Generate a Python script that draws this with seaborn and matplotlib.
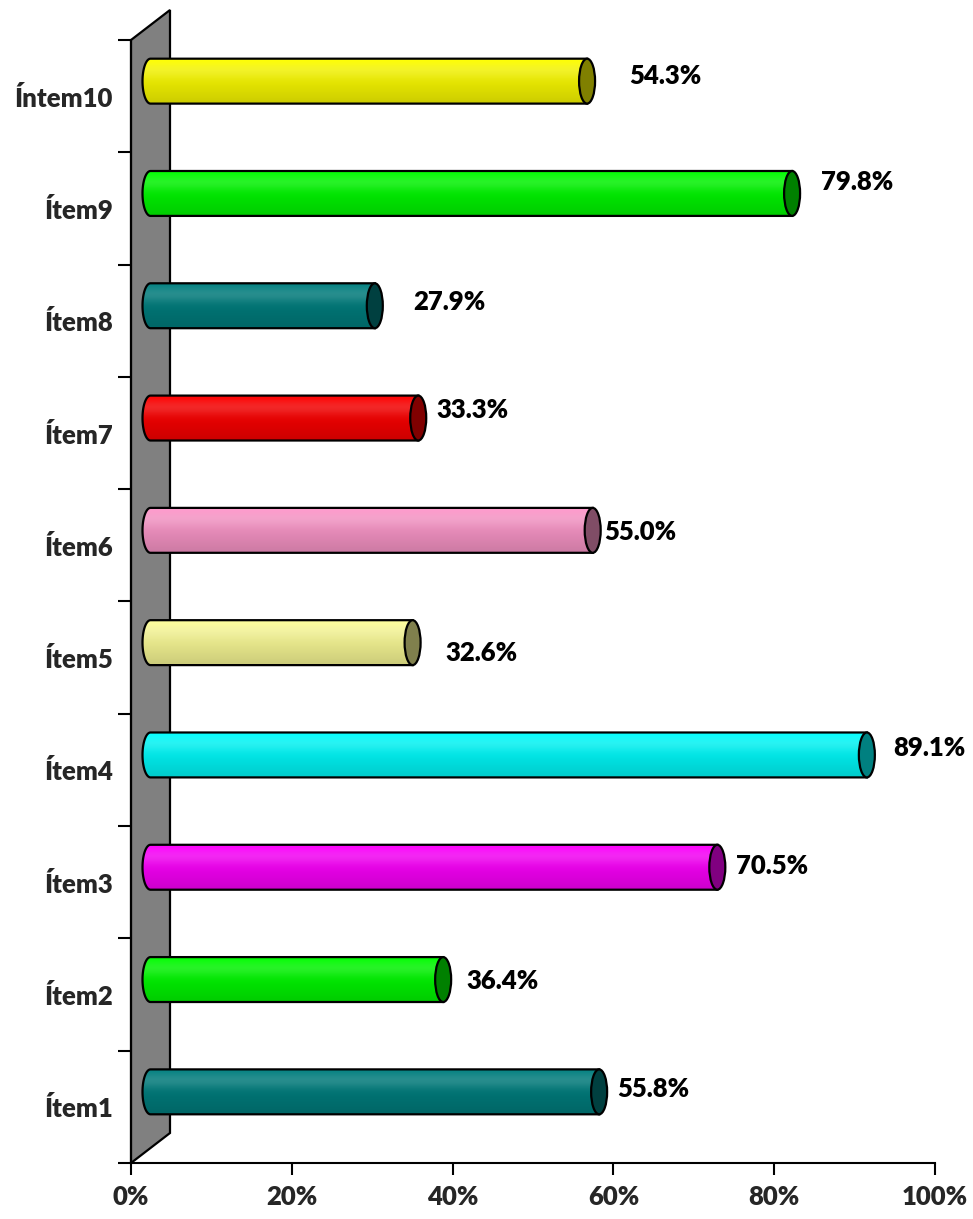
import numpy as np
import matplotlib
matplotlib.use("Agg")
import matplotlib.pyplot as plt
import seaborn as sns
from matplotlib.path import Path
from matplotlib.patches import PathPatch, Ellipse, Polygon
from matplotlib.transforms import ScaledTranslation
from matplotlib.colors import to_rgb

# ---- data -------------------------------------------------------------
items = ["Íntem10", "Ítem9", "Ítem8", "Ítem7", "Ítem6",
         "Ítem5", "Ítem4", "Ítem3", "Ítem2", "Ítem1"]
percent = [54.3, 79.8, 27.9, 33.3, 55.0, 32.6, 89.1, 70.5, 36.4, 55.8]
bar_colors = ["#FFFF00", "#00FF00", "#008080", "#FF0000", "#FF99CC",
              "#FFFF99", "#00FFFF", "#FF00FF", "#00FF00", "#008080"]
x_ticks = [0, 20, 40, 60, 80, 100]
x_tick_labels = ["0%", "20%", "40%", "60%", "80%", "100%"]

# value-label nudges (pixels, relative to the end cap of each cylinder)
label_shift = [(78, 5), (65, 11), (75, 4), (54, 8), (48, -2),
               (69, -10), (63, 7), (55, 1), (59, -1), (54, 3)]

# ---- style ------------------------------------------------------------
sns.set_theme(style="white")
plt.rcParams["font.family"] = ["Lato", "DejaVu Sans"]
plt.rcParams["font.weight"] = "bold"
FS = 18.5
FW = "heavy"

W, H = 973, 1219
fig = plt.figure(figsize=(W / 100, H / 100), dpi=100)
ax = fig.add_axes([131 / W, 56 / H, 804 / W, 1123 / H])

sns.barplot(x=percent, y=items, hue=items, palette=bar_colors, orient="h",
            width=0.40, saturation=1, legend=False, ax=ax)

# 3-D depth: bars sit halfway into the floor, wall is the full depth
depth = ax.transData + ScaledTranslation(19.5 / 100, 15 / 100, fig.dpi_scale_trans)

# back wall
wdx, wdy = 39 / 804, 30 / 1123
wall = Polygon([(0, 0), (0, 1), (wdx, 1 + wdy), (wdx, wdy)], closed=True,
               transform=ax.transAxes, facecolor="#808080", edgecolor="black",
               linewidth=1.6, clip_on=False, zorder=1)
ax.add_patch(wall)

rx = 8 / 8.04  # half-width of the cylinder end ellipse, in %
nrow = 80
t = np.linspace(0, 1, nrow)
glow = 0.16 * np.exp(-((t - 0.25) / 0.18) ** 2)
dark = 1 - 0.2 * t

bars = list(ax.patches)
for p, col, v, (dx, dy) in zip(bars, bar_colors, percent, label_shift):
    x0, y0, w, h = p.get_x(), p.get_y(), p.get_width(), p.get_height()
    p.set_visible(False)
    x1 = x0 + w
    yc = y0 + h / 2
    ry = h / 2

    ang = np.linspace(0, np.pi, 40)
    left = np.column_stack([x0 - rx * np.sin(ang), yc - ry * np.cos(ang)])
    verts = np.vstack([[x1, y0], left, [x1, y0 + h], [x1, y0]])
    codes = [Path.MOVETO] + [Path.LINETO] * (len(verts) - 2) + [Path.CLOSEPOLY]
    body = PathPatch(Path(verts, codes), transform=depth, facecolor="none",
                     edgecolor="black", linewidth=1.6, zorder=4)
    ax.add_patch(body)

    base = np.array(to_rgb(col))
    shade = (base[None, :] * (1 - glow[:, None]) + glow[:, None]) * dark[:, None]
    img = ax.imshow(np.clip(shade, 0, 1)[:, None, :], aspect="auto",
                    extent=(x0 - rx, x1, y0 + h, y0), origin="upper",
                    interpolation="bilinear", zorder=3)
    img.set_transform(depth)
    img.set_clip_path(body)

    cap = Ellipse((x1, yc), 2 * rx, h, transform=depth,
                  facecolor=tuple(base * 0.5), edgecolor="black",
                  linewidth=1.6, zorder=5)
    ax.add_patch(cap)

    ax.annotate(f"{v:.1f}%", xy=(x1, yc), xycoords=depth,
                xytext=(dx, dy), textcoords="offset pixels",
                ha="center", va="center", fontsize=FS, fontweight=FW,
                color="black", zorder=6, annotation_clip=False)

# ---- axes -------------------------------------------------------------
ax.set_xlim(0, 100)
ax.set_ylim(len(items) - 0.5, -0.5)
ax.set_xticks(x_ticks)
ax.set_xticklabels(x_tick_labels, fontsize=FS, fontweight=FW)
ax.set_yticks(range(len(items)))
ax.set_yticklabels(items, fontsize=FS, fontweight=FW)
ax.set_yticks(np.arange(-0.5, len(items), 1), minor=True)
ax.tick_params(axis="y", which="major", length=0, pad=13)
ax.tick_params(axis="y", which="minor", length=9.5, width=1.5,
               direction="out", color="black", left=True)
ax.tick_params(axis="x", which="major", length=8.6, width=1.5,
               direction="out", color="black", bottom=True, pad=7)
ax.set_xlabel("")
ax.set_ylabel("")
for side in ("top", "right"):
    ax.spines[side].set_visible(False)
for side in ("left", "bottom"):
    ax.spines[side].set_color("black")
    ax.spines[side].set_linewidth(1.5)
ax.grid(False)
ax.set_facecolor("white")

fig.savefig("out.png", dpi=100, facecolor="white")
